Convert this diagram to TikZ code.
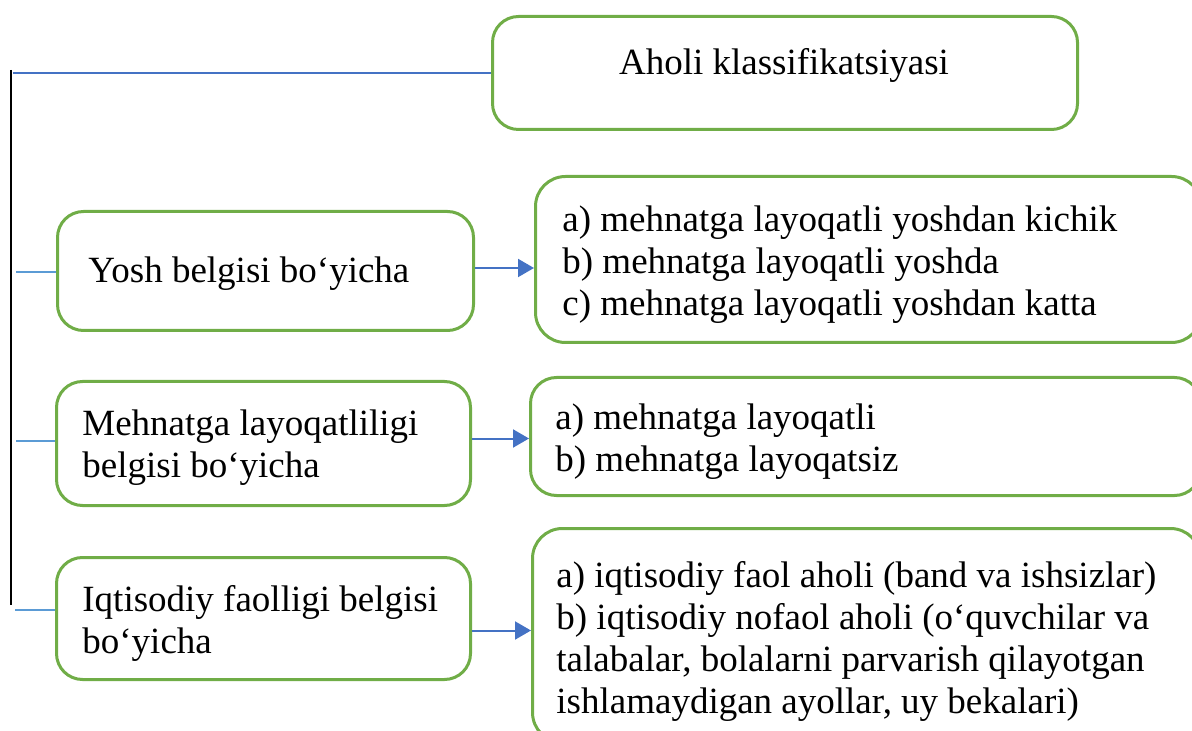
\documentclass[tikz,border=0pt]{standalone}
\usepackage{fontspec}
\setmainfont{Liberation Serif}
\usetikzlibrary{arrows.meta}
\definecolor{boxgreen}{HTML}{70AD47}
\definecolor{linkblue}{HTML}{4472C4}
\definecolor{stubblue}{HTML}{5B9BD5}
\begin{document}
\begin{tikzpicture}[x=0.5pt,y=-0.5pt,
  panel/.style={draw=boxgreen,line width=1.5pt,rounded corners=13pt,
    anchor=north west,inner sep=0pt},
  label/.style={font=\fontsize{18.5}{21}\selectfont,align=left,inner sep=0pt,anchor=west},
  arr/.style={draw=linkblue,line width=1pt,-{Triangle[length=8pt,width=9pt]}},
  stub/.style={draw=stubblue,line width=0.7pt}]
\useasboundingbox (0,0) rectangle (1192,731);
\clip (0,0) rectangle (1192,731);

% boxes
\node[panel,minimum width=292.5pt,minimum height=56.5pt] (top) at (491,15) {};
\node[panel,minimum width=208pt,minimum height=59.5pt] (A) at (56,210) {};
\node[panel,minimum width=333pt,minimum height=83pt,rounded corners=15pt] (B) at (534,175) {};
\node[panel,minimum width=207pt,minimum height=62pt] (C) at (55,380) {};
\node[panel,minimum width=335pt,minimum height=59pt] (D) at (529,376) {};
\node[panel,minimum width=207pt,minimum height=61pt] (E) at (55,556) {};
\node[panel,minimum width=334pt,minimum height=107pt,rounded corners=15pt] (F) at (531,527) {};

% texts
\node[label,anchor=center] (ttop) at (784,65) {Aholi klassifikatsiyasi};
\node[label] (tA) at (88,274) {Yosh belgisi bo‘yicha};
\node[label] (tB) at (562,265) {a) mehnatga layoqatli yoshdan kichik\\
  b) mehnatga layoqatli yoshda\\
  c) mehnatga layoqatli yoshdan katta};
\node[label] (tC) at (82,448) {Mehnatga layoqatliligi\\ belgisi bo‘yicha};
\node[label] (tD) at (555,442) {a) mehnatga layoqatli\\ b) mehnatga layoqatsiz};
\node[label] (tE) at (82,623) {Iqtisodiy faolligi belgisi\\ bo‘yicha};
\node[label] (tF) at (556,641) {a) iqtisodiy faol aholi (band va ishsizlar)\\
  b) iqtisodiy nofaol aholi (o‘quvchilar va\\
  talabalar, bolalarni parvarish qilayotgan\\
  ishlamaydigan ayollar, uy bekalari)};

% trunk on the left
\coordinate (trunkTop) at (11,70);
\coordinate (trunkBot) at (11,605);
\draw[black,line width=0.75pt] (trunkTop) -- (trunkBot);
\coordinate (topJoin) at (13,73);
\draw[draw=linkblue,line width=1pt] (topJoin) -- (topJoin -| top.west);

% stubs towards the left boxes
\coordinate (sA) at (16,272);
\coordinate (sC) at (16,441);
\coordinate (sE) at (15,610);
\draw[stub] (sA) -- (sA -| A.west);
\draw[stub] (sC) -- (sC -| C.west);
\draw[stub] (sE) -- (sE -| E.west);

% arrows to the right boxes
\draw[arr] ([yshift=1.5pt]A.east) -- ([yshift=1.5pt]A.east -| B.west);
\draw[arr] ([yshift=2.5pt]C.east) -- ([yshift=2.5pt]C.east -| D.west);
\draw[arr] ([yshift=-6pt]E.east) -- ([yshift=-6pt]E.east -| F.west);
\end{tikzpicture}
\end{document}
